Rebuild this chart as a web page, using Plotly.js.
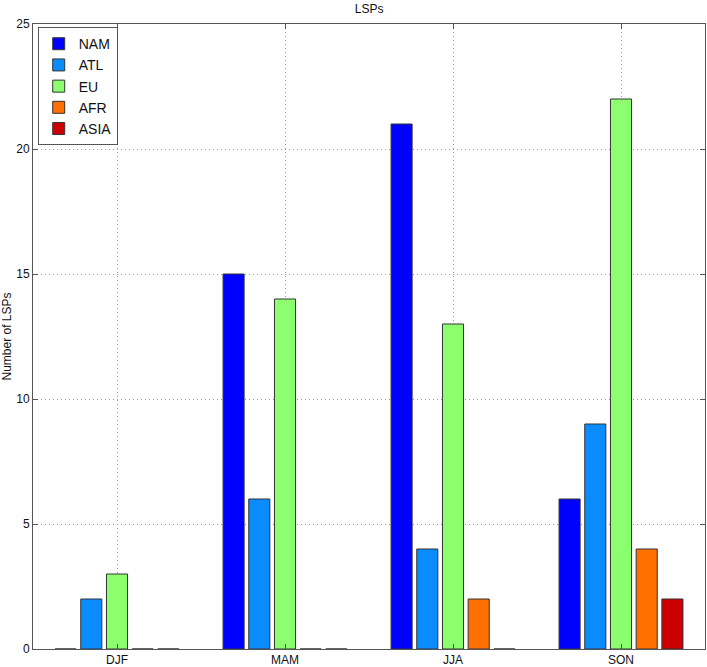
<!DOCTYPE html>
<html>
<head>
<meta charset="utf-8">
<script src="https://cdn.plot.ly/plotly-3.0.1.min.js"></script>
<style>
  html, body { margin: 0; padding: 0; background: #fff; }
  #chart { width: 707px; height: 667px; }
</style>
</head>
<body>
<div id="chart"></div>
<script>
// seasons on the x axis
const seasons = ['DJF', 'MAM', 'JJA', 'SON']

// number of LSPs per region, one value per season
const regions = ['NAM', 'ATL', 'EU', 'AFR', 'ASIA']
const nam = [0, 15, 21, 6]
const atl = [2, 6, 4, 9]
const eu = [3, 14, 13, 22]
const afr = [0, 0, 2, 4]
const asia = [0, 0, 0, 2]

const yTicks = [0, 5, 10, 15, 20, 25]

const colors = ['#0000ff', '#0a8cff', '#8cff6e', '#ff7000', '#cc0000']
const seriesValues = [nam, atl, eu, afr, asia]

const data = regions.map((name, i) => {
    return {
        type: 'bar',
        x: seasons,
        y: seriesValues[i],
        name: name,
        marker: {
            color: colors[i],
            line: { color: '#333333', width: 1 }
        },
        hovertemplate: `${name}<br>%{x}: %{y}<extra></extra>`
    }
})

const axisCommon = {
    showline: true,
    linecolor: '#555555',
    linewidth: 1,
    mirror: 'ticks',
    ticks: 'inside',
    ticklen: 5,
    tickcolor: '#555555',
    showgrid: true,
    gridcolor: '#999999',
    griddash: '1px,3px',
    gridwidth: 1,
    zeroline: false,
    tickfont: { size: 12, color: '#111111' }
}

const layout = {
    width: 707,
    height: 667,
    font: { family: '"Liberation Sans", Arial, sans-serif', color: '#111111' },
    title: {
        text: 'LSPs',
        font: { size: 12 },
        x: 0.522,
        xanchor: 'center',
        y: 1 - 9 / 667,
        yanchor: 'middle'
    },
    barmode: 'group',
    bargap: 0.235,
    bargroupgap: 0.18,
    xaxis: {
        ...axisCommon,
        type: 'category',
        range: [-0.5, 3.5]
    },
    yaxis: {
        ...axisCommon,
        range: [0, 25],
        tickvals: yTicks,
        title: { text: 'Number of LSPs', font: { size: 12 } }
    },
    legend: {
        x: 0.007,
        y: 0.995,
        xanchor: 'left',
        yanchor: 'top',
        bgcolor: '#ffffff',
        bordercolor: '#555555',
        borderwidth: 1,
        font: { size: 14 },
        traceorder: 'normal',
        itemwidth: 30
    },
    margin: { l: 33, r: 2, t: 24, b: 18 },
    paper_bgcolor: '#ffffff',
    plot_bgcolor: '#ffffff',
    showlegend: true
}

Plotly.newPlot('chart', data, layout, { displayModeBar: false })
</script>
</body>
</html>
